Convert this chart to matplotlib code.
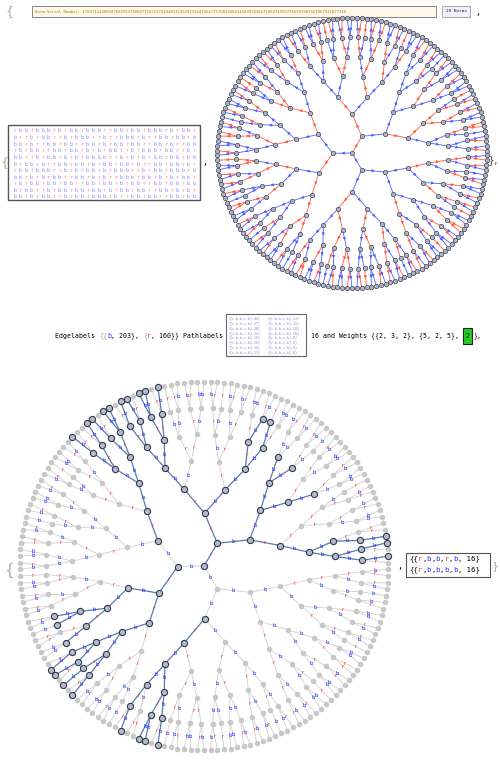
import numpy as np
import matplotlib.pyplot as plt
from matplotlib.patches import Rectangle

# edge labels in breadth-first order (also shown as the letter grid)
label_rows = [
    "rbbrbbbrbrbbrbbbrrbbrbbrbbbrbrbbr",
    "brrbrbbrrbrbbbrrbrrbbbrbrrbbrbbrb",
    "bbrbrrbbrbbrrbbrbrbbrbbrrbbrbrrbb",
    "rbrbbrrbbrbbrbrbrbbrrbrbbbrbbrrbr",
    "bbrrbrbbrbrbrbbbbrrbrbrbrbbrbbrbb",
    "brbbrbrrbbrbbrbrbbrbbrbrrbbrbbrbr",
    "rbbrbbbrrbrbrbbrbrbbbrrbrbbrbbbrb",
    "bbrbrbrbbrrbbrbrbrrbbbrbbrbrbrbbr",
    "rbrbbrbbrbbrrbbrbbrbrbbrrbbrbbrbb",
    "brbbrrbrbbrbbrbbrbrbbrbbrrbbrbrbr",
    "bbrbrbbrrbrbbrbbbrbrrbbrbbrrbbrbb",
]
edge_labels = "".join(label_rows)
level_branching = [3, 2, 2, 2, 2, 2]  # root .. level 5
last_children = ("222212222122221222212222122221"
                 "222212222122221222212222122221"
                 "222212222122221222212222122221"
                 "222222")
patterns = ["rbbrb", "rbbbb"]
path_counts = [44, 27, 20, 22, 16, 16, 16, 13, 13, 11, 10, 10, 8, 8, 8, 8]
serial = ("Norm Serial Number, 17837114400687685553730087718729742448132252973164"
          "7464775760234641458397436671089745557356991903567067931877116")

# build tree (BFS)
parent = [-1]
depth = [0]
levels = [[0]]
for nb in level_branching:
    nxt = []
    for p in levels[-1]:
        for _ in range(nb):
            parent.append(p); depth.append(depth[p] + 1); nxt.append(len(parent) - 1)
    levels.append(nxt)
for p, c in zip(levels[-1], last_children):
    for _ in range(int(c)):
        parent.append(p); depth.append(depth[p] + 1)
N = len(parent)
children = [[] for _ in range(N)]
for i in range(1, N):
    children[parent[i]].append(i)
lab = {i: edge_labels[(i - 1) % len(edge_labels)] for i in range(1, N)}
maxd = max(depth)

# layout: leaves evenly on rim
leaves = []
def collect(v):
    if not children[v]:
        leaves.append(v)
    for c in children[v]:
        collect(c)
collect(0)
ang = np.zeros(N)
for k, v in enumerate(leaves):
    ang[v] = np.pi / 2 - 2 * np.pi * (k + 0.5) / len(leaves) + np.pi / 6
def setang(v):
    if children[v]:
        for c in children[v]:
            setang(c)
        ang[v] = np.mean([ang[c] for c in children[v]])
setang(0)
rad = np.array([1.0 if not children[i] else depth[i] / maxd for i in range(N)])
X = rad * np.cos(ang); Y = rad * np.sin(ang)

# highlighted edges: paths matching the patterns
hl = set()
for v in range(N):
    path = []; u = v
    while u != 0 and len(path) < 5:
        path.append(u); u = parent[u]
    if len(path) == 5:
        s = "".join(lab[x] for x in reversed(path))
        if s in patterns:
            hl.update(path)
hl_nodes = set(hl) | {parent[x] for x in hl}

W, H = 500, 764
fig = plt.figure(figsize=(W / 100, H / 100), dpi=100)
bg = fig.add_axes([0, 0, 1, 1]); bg.set_xlim(0, W); bg.set_ylim(H, 0); bg.axis("off")
mono = "DejaVu Sans Mono"
BLUE, RED = "#3030ff", "#ff3030"

def seg_text(x, y, parts, fs):
    cw = 0.602 * fs * 100 / 72
    for s, col in parts:
        bg.text(x, y, s, fontsize=fs, family=mono, color=col, va="center")
        x += cw * len(s)
    return x

# top line
bg.text(5, 12, "{", fontsize=9, color="#aaa", va="center")
bg.add_patch(Rectangle((32, 6), 404, 11, fc="#fff8e6", ec="#888", lw=0.7))
bg.text(35, 11.5, serial, fontsize=2.9, family=mono, color="#b08020", va="center")
bg.add_patch(Rectangle((442, 6), 28, 11, fc="#f2f2ff", ec="#999", lw=0.6))
bg.text(456, 11.5, "20 Norms", fontsize=3.2, family=mono, color="#224", ha="center", va="center")
bg.text(476, 12, ",", fontsize=7, va="center")

# letter grid
bg.text(0, 163, "{", fontsize=9, color="#aaa", va="center")
bg.add_patch(Rectangle((8, 125), 192, 75, fc="white", ec="#555", lw=1))
for r, row in enumerate(label_rows):
    for c, ch in enumerate(row):
        bg.text(13 + c * 5.6, 131 + r * 6.6, ch, fontsize=3.6, family=mono,
                color=BLUE if ch == "b" else RED, va="center", alpha=0.6)
bg.text(203, 165, ",", fontsize=7)
bg.text(488, 160, "},", fontsize=8, color="#555", va="center")

# top tree
ax1 = fig.add_axes([213 / W, 1 - 292 / H, 278 / W, 278 / H])
ax1.set_aspect("equal"); ax1.axis("off"); ax1.set_xlim(-1.03, 1.03); ax1.set_ylim(-1.03, 1.03)
for i in range(1, N):
    p = parent[i]
    col = "#5060ff" if lab[i] == "b" else "#ff5a40"
    ax1.plot([X[p], X[i]], [Y[p], Y[i]], color=col, lw=0.6, zorder=1)
    ax1.annotate("", xy=(X[p] * 0.45 + X[i] * 0.55, Y[p] * 0.45 + Y[i] * 0.55),
                 xytext=(X[p] * 0.55 + X[i] * 0.45, Y[p] * 0.55 + Y[i] * 0.45),
                 arrowprops=dict(arrowstyle="-|>", color=col, lw=0.5, mutation_scale=4), zorder=2)
ax1.scatter(X, Y, s=10, c="#b0b4c0", edgecolors="#404860", linewidths=0.5, zorder=3)

# middle line
y0 = 336
fs = 4.8
x = seg_text(55, y0, [("Edgelabels ", "black"), ("{{", "#999"), ("b", BLUE), (", 203}, ", "black"),
                      ("{", "#999"), ("r", RED), (", 160}}", "black"), (" Pathlabels", "black")], fs)
bx = x + 2
bg.add_patch(Rectangle((bx, 314), 80, 42, fc="white", ec="#666", lw=0.8))
for k, cnt in enumerate(path_counts):
    cx = bx + 3 + (k // 8) * 39; cy = 318.5 + (k % 8) * 4.8
    bg.text(cx, cy, "{{r,b,b,r,b},%d}" % cnt, fontsize=2.3, family=mono, color="#8080c0", va="center")
x = seg_text(bx + 85, y0, [("16 and Weights ", "black"), ("{{2, 3, 2}, {5, 2, 5}, ", "black")], fs)
bg.add_patch(Rectangle((x, 328), 9, 16, fc="#22cc22", ec="#222", lw=0.8))
bg.text(x + 4.5, y0, "2", fontsize=fs, family=mono, ha="center", va="center")
seg_text(x + 10, y0, [("},", "black")], fs)

# bottom tree
ax2 = fig.add_axes([14 / W, 1 - 756 / H, 380 / W, 380 / H])
ax2.set_aspect("equal"); ax2.axis("off"); ax2.set_xlim(-1.03, 1.03); ax2.set_ylim(-1.03, 1.03)
for i in range(1, N):
    p = parent[i]
    on = i in hl
    ax2.plot([X[p], X[i]], [Y[p], Y[i]], color="#5a7ab0" if on else "#d0d0d0",
             lw=0.9 if on else 0.6, zorder=2 if on else 1)
    ax2.text((X[p] + X[i]) / 2, (Y[p] + Y[i]) / 2, lab[i], fontsize=3.8,
             color="#2020ff" if lab[i] == "b" else "#ff2020", ha="center", va="center", zorder=4)
plain = [i for i in range(N) if i not in hl_nodes]
hot = sorted(hl_nodes)
ax2.scatter(X[plain], Y[plain], s=16, c="#c8c8c8", linewidths=0, zorder=3)
ax2.scatter(X[hot], Y[hot], s=20, c="#b4bac8", edgecolors="#303850", linewidths=0.8, zorder=3)
bg.text(4, 570, "{", fontsize=11, color="#aaa", va="center")
bg.text(398, 566, ",", fontsize=7, va="center")
bg.add_patch(Rectangle((406, 553), 84, 24, fc="white", ec="#555", lw=0.8))
for k, pt in enumerate(patterns):
    parts = [("{{", "black")]
    for ch in pt:
        parts += [(ch, BLUE if ch == "b" else RED), (",", "black")]
    parts += [(" 16}", "black")]
    seg_text(409, 559 + k * 11, parts, 5.3)
bg.text(492, 566, "}", fontsize=8, color="#aaa", va="center")

fig.savefig("out.png", dpi=100)
